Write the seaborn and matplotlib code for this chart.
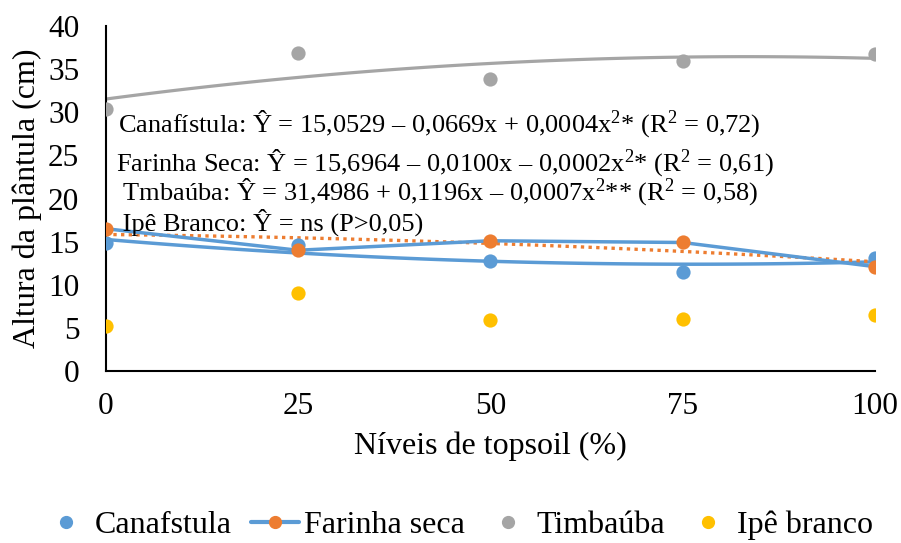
import matplotlib
matplotlib.use("Agg")
import matplotlib.pyplot as plt
from matplotlib.lines import Line2D
import seaborn as sns
import pandas as pd
import numpy as np

# ---- data ----
niveis = [0, 25, 50, 75, 100]
canafistula = [14.8, 14.6, 12.7, 11.5, 13.1]
farinha_seca = [16.5, 14.0, 15.1, 14.9, 12.1]
timbauba = [30.4, 36.9, 33.9, 35.9, 36.8]
ipe_branco = [5.2, 9.0, 5.9, 6.0, 6.5]

series_names = ["Canafstula", "Farinha seca", "Timbaúba", "Ipê branco"]
yticks = [0, 5, 10, 15, 20, 25, 30, 35, 40]
xticks = [0, 25, 50, 75, 100]

equations = [
    "Canafístula: Ŷ = 15,0529 – 0,0669x + 0,0004x$^{2}$* (R$^{2}$ = 0,72)",
    "Farinha Seca: Ŷ = 15,6964 – 0,0100x – 0,0002x$^{2}$* (R$^{2}$ = 0,61)",
    " Tmbaúba: Ŷ = 31,4986 + 0,1196x – 0,0007x$^{2}$** (R$^{2}$ = 0,58)",
    " Ipê Branco: Ŷ = ns (P>0,05)",
]

BLUE = "#5B9BD5"
ORANGE = "#ED7D31"
GRAY = "#A5A5A5"
YELLOW = "#FFC000"

sns.set_theme(style="white")
plt.rcParams["font.family"] = ["Liberation Serif", "DejaVu Serif"]
plt.rcParams["mathtext.fontset"] = "custom"
plt.rcParams["mathtext.rm"] = "Liberation Serif"
plt.rcParams["mathtext.it"] = "Liberation Serif"
for key in ["text.color", "axes.labelcolor", "xtick.color", "ytick.color"]:
    plt.rcParams[key] = "black"

df = pd.DataFrame({"x": niveis, "can": canafistula, "far": farinha_seca,
                   "tim": timbauba, "ipe": ipe_branco})

fig = plt.figure(figsize=(9.01, 5.43), dpi=100)
ax = fig.add_axes([0.1173, 0.3168, 0.8537, 0.6352])

# trend lines (quadratic fits)
sns.regplot(data=df, x="x", y="tim", order=2, ci=None, scatter=False, ax=ax,
            line_kws=dict(color=GRAY, lw=2.3))
sns.regplot(data=df, x="x", y="can", order=2, ci=None, scatter=False, ax=ax,
            line_kws=dict(color=BLUE, lw=2.5))
sns.regplot(data=df, x="x", y="far", order=2, ci=None, scatter=False, ax=ax,
            line_kws=dict(color=ORANGE, lw=2.4, ls=(0, (1, 1.3))))

# Farinha seca connected line
sns.lineplot(data=df, x="x", y="far", ax=ax, color=BLUE, lw=2.5, zorder=3)

# points
kw = dict(s=105, linewidth=0, zorder=4, ax=ax)
sns.scatterplot(data=df, x="x", y="can", color=BLUE, **kw)
sns.scatterplot(data=df, x="x", y="far", color=ORANGE, **kw)
sns.scatterplot(data=df, x="x", y="tim", color=GRAY, **kw)
sns.scatterplot(data=df, x="x", y="ipe", color=YELLOW, **kw)

ax.set_xlim(0, 100)
ax.set_ylim(0, 40)
ax.set_xticks(xticks)
ax.set_yticks(yticks)
ax.tick_params(axis="both", labelsize=22.5, length=0, labelcolor="black")
ax.tick_params(axis="x", pad=15)
ax.tick_params(axis="y", pad=19)
for s in ["top", "right"]:
    ax.spines[s].set_visible(False)
for s in ["left", "bottom"]:
    ax.spines[s].set_color("black")
    ax.spines[s].set_linewidth(1.5)
ax.grid(False)
ax.set_xlabel("Níveis de topsoil (%)", fontsize=23, labelpad=8, color="black")
ax.set_ylabel("Altura da plântula (cm)", fontsize=23, labelpad=4, color="black")

# equations
eq_pos = [(118, 124), (116, 163), (116, 192), (116, 222)]
for (px, py), t in zip(eq_pos, equations):
    fig.text(px / 901, 1 - py / 543, t, fontsize=19, ha="left", va="center",
             color="black")

# legend
handles = [
    Line2D([], [], ls="none", marker="o", ms=8.5, color=BLUE),
    Line2D([], [], ls="-", lw=3, marker="o", ms=8.5, color=BLUE,
           markerfacecolor=ORANGE, markeredgecolor=ORANGE),
    Line2D([], [], ls="none", marker="o", ms=8.5, color=GRAY),
    Line2D([], [], ls="none", marker="o", ms=8.5, color=YELLOW),
]
leg = fig.legend(handles, series_names, loc="center", bbox_to_anchor=(0.508, 1 - 525 / 543),
                 ncol=4, frameon=False, fontsize=23, handlelength=1.5,
                 handletextpad=0.15, columnspacing=0.6, borderpad=0.1)
for t in leg.get_texts():
    t.set_color("black")

fig.savefig("out.png", dpi=100)
